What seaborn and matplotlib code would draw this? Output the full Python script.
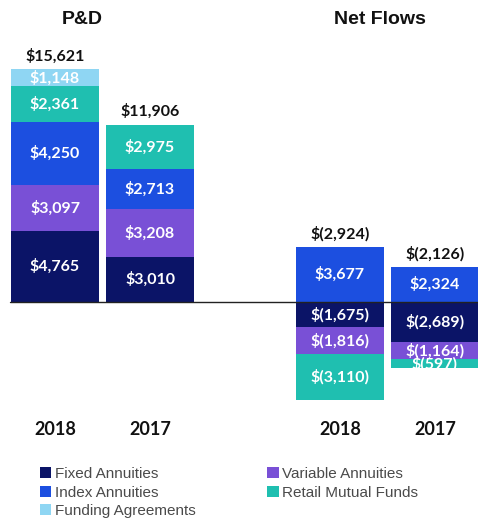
import pandas as pd
import matplotlib
matplotlib.use("Agg")
import matplotlib.pyplot as plt
import seaborn as sns
from matplotlib.patches import Patch

# ========================
# DATA ($ millions)
# ========================
GROUPS = ["P&D", "Net Flows"]
YEARS = ["2018", "2017", "2018", "2017"]
SERIES = ["Fixed Annuities", "Variable Annuities", "Index Annuities",
          "Retail Mutual Funds", "Funding Agreements"]
FIXED = [4765, 3010, -1675, -2689]
VARIABLE = [3097, 3208, -1816, -1164]
INDEX = [4250, 2713, 3677, 2324]
RETAIL = [2361, 2975, -3110, -597]
FUNDING = [1148, 0, 0, 0]
TOTALS = [15621, 11906, -2924, -2126]

COLORS = {
    "Fixed Annuities": "#0b1467",
    "Variable Annuities": "#7950d6",
    "Index Annuities": "#1c4fe0",
    "Retail Mutual Funds": "#1fbfb0",
    "Funding Agreements": "#8fd6f3",
}
NUM_FONT = "Lato"
HEAD_FONT = "Liberation Sans"

POSITIONS = [0, 1, 3, 4]
BAR_WIDTH = 0.926


def money(v):
    return f"${v:,.0f}" if v >= 0 else f"$({-v:,.0f})"


values = {
    "Fixed Annuities": FIXED,
    "Variable Annuities": VARIABLE,
    "Index Annuities": INDEX,
    "Retail Mutual Funds": RETAIL,
    "Funding Agreements": FUNDING,
}

# ========================
# PLOT
# ========================
sns.set_style("white")
fig = plt.figure(figsize=(4.78, 5.18), dpi=100)
ax = fig.add_axes([0, 0, 1, 1])

pos_bottom = [0.0] * 4
neg_bottom = [0.0] * 4
for name in SERIES:
    vals = values[name]
    bottoms = [pos_bottom[i] if v >= 0 else neg_bottom[i] for i, v in enumerate(vals)]
    df = pd.DataFrame({"pos": POSITIONS, "val": vals})
    sns.barplot(data=df, x="pos", y="val", native_scale=True, width=BAR_WIDTH,
                color=COLORS[name], saturation=1, errorbar=None,
                bottom=bottoms, linewidth=0, ax=ax)
    for i, v in enumerate(vals):
        if v == 0:
            continue
        ax.text(POSITIONS[i], bottoms[i] + v / 2, money(v), ha="center", va="center",
                color="white", fontsize=11.5, fontweight="bold", family=NUM_FONT)
        if v >= 0:
            pos_bottom[i] += v
        else:
            neg_bottom[i] += v

# totals above the top of each bar
for i, t in enumerate(TOTALS):
    ax.annotate(money(t), (POSITIONS[i], pos_bottom[i]), xytext=(0, 4),
                textcoords="offset points", ha="center", va="bottom",
                fontsize=11.5, fontweight="bold", family=NUM_FONT, color="#111111")

ax.axhline(0, xmin=10 / 478, xmax=1, color="#222222", linewidth=1)

# year labels under the bars
for p, yr in zip(POSITIONS, YEARS):
    ax.text(p, 0.170, yr, transform=ax.get_xaxis_transform(), ha="center",
            va="center", fontsize=13, fontweight="bold", family=NUM_FONT,
            color="#111111")

fig.text(82 / 478, 1 - 20 / 518, GROUPS[0], ha="center", va="center",
         fontsize=14, fontweight="bold", family=HEAD_FONT, color="#111111")
fig.text(380 / 478, 1 - 20 / 518, GROUPS[1], ha="center", va="center",
         fontsize=14, fontweight="bold", family=HEAD_FONT, color="#111111")

ax.set_xlim(-0.579, 4.453)
ax.set_ylim(-14497, 20268)
ax.axis("off")

labels = ["Fixed Annuities", "Index Annuities", "Funding Agreements",
          "Variable Annuities", "Retail Mutual Funds"]
handles = [Patch(facecolor=COLORS[s], edgecolor="none") for s in labels]
leg = fig.legend(handles, labels, loc="upper left", bbox_to_anchor=(40 / 478, 1 - 467 / 518),
                 ncol=2, frameon=False, handlelength=0.75, handleheight=0.75,
                 handletextpad=0.25, columnspacing=4.65, labelspacing=0.3,
                 borderpad=0, borderaxespad=0,
                 prop={"family": HEAD_FONT, "size": 11})
for txt in leg.get_texts():
    txt.set_color("#4a4a4a")

fig.savefig("out.png", dpi=100)
